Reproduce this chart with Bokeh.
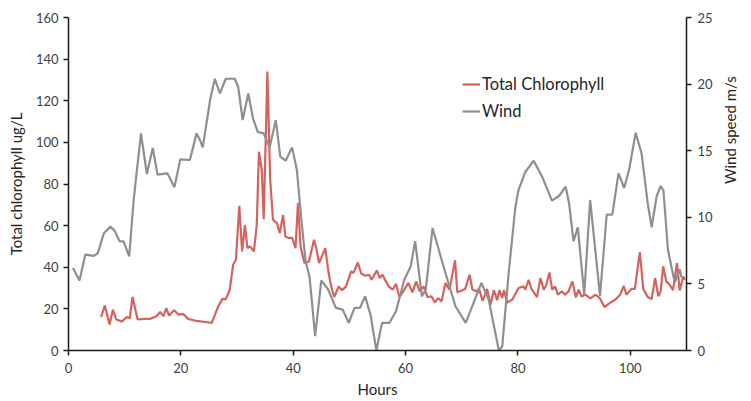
import math
from bokeh.plotting import figure
from bokeh.models import Range1d, LinearAxis, Legend, LegendItem, FixedTicker
from bokeh.embed import file_html
from bokeh.resources import INLINE

# Wind speed (m/s), right axis
wind_hours = [0.8, 1.95, 3.0, 4.5, 5.2, 6.3, 7.45, 8.2, 9.1, 9.8, 10.8, 11.6, 12.9, 13.95, 15.0,
              15.85, 17.6, 18.85, 19.9, 21.6, 22.8, 23.4, 23.9, 25.2, 26.05, 26.95, 28.0, 29.6,
              30.2, 31.0, 32.0, 32.85, 33.7, 34.75, 35.8, 36.9, 37.7, 38.65, 39.8, 40.65, 41.4,
              42.2, 42.9, 43.9, 45.0, 46.2, 47.6, 48.8, 49.9, 50.9, 51.9, 52.8, 53.8, 54.8,
              55.8, 57.1, 58.3, 59.75, 60.9, 61.7, 62.9, 63.6, 64.8, 67.1, 68.9, 70.7, 73.5,
              74.8, 76.6, 77.2, 78.4, 79.55, 80.1, 81.3, 82.8, 84.3, 86.05, 87.3, 88.5, 89.1,
              89.9, 90.65, 91.8, 92.85, 94.6, 95.8, 96.8, 97.9, 98.9, 99.8, 100.95, 102.0,
              103.1, 103.8, 104.7, 105.4, 105.9, 106.7, 107.9, 108.8, 109.1]
wind = [6.2, 5.26, 7.2, 7.1, 7.3, 8.8, 9.3, 9.0, 8.2, 8.2, 7.06, 11.3, 16.3, 13.25, 15.2,
        13.2, 13.3, 12.25, 14.35, 14.3, 16.3, 15.8, 15.25, 18.8, 20.4, 19.3, 20.4, 20.4,
        19.8, 17.3, 19.3, 17.4, 16.4, 16.3, 15.25, 17.3, 14.55, 14.25, 15.25, 13.55, 10.05,
        6.7, 5.56, 1.07, 5.26, 4.6, 3.2, 3.07, 2.07, 3.2, 3.2, 4.07, 2.6, 0.0,
        2.07, 2.07, 2.95, 5.3, 6.3, 8.2, 4.07, 4.6, 9.2, 5.8, 3.3, 2.07, 5.07,
        3.8, 0.0, 0.3, 6.06, 10.8, 12.05, 13.4, 14.25, 13.05, 11.25, 11.6, 12.3, 11.05,
        8.2, 9.25, 4.2, 11.3, 4.1, 10.2, 10.2, 13.3, 12.2, 13.6, 16.35, 14.8,
        11.05, 9.25, 11.6, 12.35, 12.0, 7.56, 5.1, 6.1, 5.5]

# Total chlorophyll (ug/L), left axis
chl_hours = [5.8, 6.45, 6.9, 7.3, 7.9, 8.5, 9.5, 10.4, 10.9, 11.4, 12.3, 13.5, 14.5, 15.6,
             16.3, 16.9, 17.4, 17.9, 18.8, 19.6, 20.4, 21.3, 22.8, 24.0, 25.5, 26.65, 27.4,
             28.0, 28.7, 29.3, 29.8, 30.4, 30.9, 31.4, 31.85, 32.3, 33.0, 33.5, 33.9, 34.4,
             34.75, 35.4, 35.9, 36.4, 37.1, 37.6, 38.2, 38.6, 39.2, 39.8, 40.4, 40.85, 41.3,
             42.0, 42.8, 43.7, 44.1, 44.6, 45.7, 46.3, 46.75, 47.3, 48.1, 48.7, 49.4, 50.3, 50.7,
             51.5, 52.1, 52.8, 53.5, 53.95, 54.9, 55.4, 55.9, 56.5, 57.0, 57.7, 58.3, 58.9,
             59.7, 60.5, 61.2, 61.9, 62.5, 63.2, 63.9, 64.6, 65.2, 65.8, 66.4, 67.1, 67.8,
             68.8, 69.2, 70.0, 70.6, 71.4, 71.9, 72.8, 73.05, 73.7, 74.5, 75.1, 75.7, 76.3,
             76.7, 77.2, 77.5, 78.1, 79.0, 80.1, 81.0, 81.3, 81.9, 82.4, 83.4, 83.6, 84.0,
             84.6, 85.0, 85.6, 86.1, 86.6, 87.1, 87.8, 88.4, 89.0, 89.7, 90.3, 90.8, 91.3,
             92.0, 92.9, 93.8, 94.6, 95.4, 96.4, 97.3, 98.2, 98.8, 99.3, 100.2, 100.8, 101.7,
             102.3, 103.1, 103.8, 104.4, 105.0, 105.4, 105.85, 106.4, 107.0, 107.6, 108.3,
             108.8, 109.4, 109.7]
chl = [16.1, 21.6, 17.0, 12.5, 19.6, 14.9, 14.0, 16.1, 15.5, 25.7, 14.9, 15.2, 15.2, 16.3,
       18.5, 16.5, 20.4, 16.8, 19.3, 17.2, 17.6, 15.2, 14.2, 13.8, 13.3, 21.2, 24.8,
       24.6, 29.2, 41.2, 43.6, 69.5, 47.6, 60.4, 49.2, 50.0, 47.6, 60.0, 95.5, 86.6,
       63.1, 134.0, 81.9, 62.8, 61.2, 56.4, 65.1, 54.8, 54.0, 54.2, 49.2, 71.0, 50.0,
       42.0, 42.8, 53.2, 49.2, 42.0, 49.2, 37.2, 30.8, 25.7, 30.8, 29.0, 30.8, 38.0, 37.2,
       42.3, 37.0, 35.9, 36.4, 34.0, 38.5, 34.8, 36.4, 33.2, 30.8, 29.2, 32.0, 25.7,
       28.9, 32.5, 27.9, 33.2, 28.4, 30.8, 25.7, 26.0, 23.1, 25.2, 23.6, 32.4, 29.2,
       43.3, 28.0, 28.8, 29.6, 36.4, 29.2, 28.4, 30.0, 23.8, 29.6, 22.0, 29.0, 24.2,
       29.0, 25.2, 29.0, 23.1, 24.5, 30.0, 30.8, 29.2, 34.0, 29.6, 25.7, 28.8, 34.8,
       29.2, 31.2, 37.5, 29.2, 30.8, 26.8, 28.4, 26.8, 28.4, 33.2, 25.5, 29.2, 26.0,
       26.8, 25.0, 26.8, 25.0, 20.9, 22.9, 24.4, 26.8, 31.1, 26.8, 29.6, 29.6, 47.3,
       29.6, 25.7, 24.7, 34.8, 26.0, 28.4, 40.4, 33.2, 31.6, 29.0, 42.0, 28.8, 35.6, 34.0]

x_ticks = [0, 20, 40, 60, 80, 100]
left_ticks = [0, 20, 40, 60, 80, 100, 120, 140, 160]
right_ticks = [0, 5, 10, 15, 20, 25]

FONT = "Lato"
TXT = "#404040"

p = figure(width=750, height=400, output_backend="svg", toolbar_location=None,
           x_range=Range1d(0, 110), y_range=Range1d(0, 160),
           min_border_left=68, min_border_right=61, min_border_top=17, min_border_bottom=49,
           y_axis_location=None, x_axis_location=None)
p.outline_line_color = None
p.xgrid.visible = False
p.ygrid.visible = False
p.background_fill_color = "white"
p.border_fill_color = "white"

p.extra_y_ranges = {"wind": Range1d(0, 25)}

def style(ax):
    ax.axis_line_color = "#1a1a1a"
    ax.axis_line_width = 1.5
    ax.major_tick_line_color = "#1a1a1a"
    ax.major_tick_line_width = 1.5
    ax.major_tick_out = 5
    ax.major_tick_in = 0
    ax.minor_tick_line_color = None
    ax.major_label_text_font = FONT
    ax.major_label_text_font_size = "13px"
    ax.major_label_text_color = TXT
    ax.axis_label_text_font = FONT
    ax.axis_label_text_font_size = "15px"
    ax.axis_label_text_font_style = "normal"
    ax.axis_label_text_color = "#262626"

xa = LinearAxis(ticker=FixedTicker(ticks=x_ticks), axis_label="Hours")
style(xa)
xa.major_label_standoff = 7
xa.axis_label_standoff = 4
p.add_layout(xa, "below")

ya = LinearAxis(ticker=FixedTicker(ticks=left_ticks), axis_label="Total chlorophyll ug/L")
style(ya)
ya.major_label_standoff = 5
ya.axis_label_standoff = 8
p.add_layout(ya, "left")

ra = LinearAxis(y_range_name="wind", ticker=FixedTicker(ticks=right_ticks), axis_label="Wind speed m/s")
style(ra)
ra.major_label_standoff = 6
ra.axis_label_standoff = 14
ra.axis_label_orientation = math.pi / 2
p.add_layout(ra, "right")

r_chl = p.line(chl_hours, chl, line_color="#D4625D", line_width=2.2)
r_wind = p.line(wind_hours, wind, line_color="#8F8F8F", line_width=2.2, y_range_name="wind")

legend = Legend(items=[LegendItem(label="Total Chlorophyll", renderers=[r_chl]),
                       LegendItem(label="Wind", renderers=[r_wind])],
                location=(394, 229), orientation="vertical",
                glyph_width=18, glyph_height=20, label_height=20, spacing=7,
                label_standoff=2, padding=0, margin=0,
                label_text_font=FONT, label_text_font_size="16.5px", label_text_color="#262626",
                background_fill_alpha=0, border_line_color=None)
p.add_layout(legend, "center")

open("out.html", "w").write(file_html(p, INLINE))
